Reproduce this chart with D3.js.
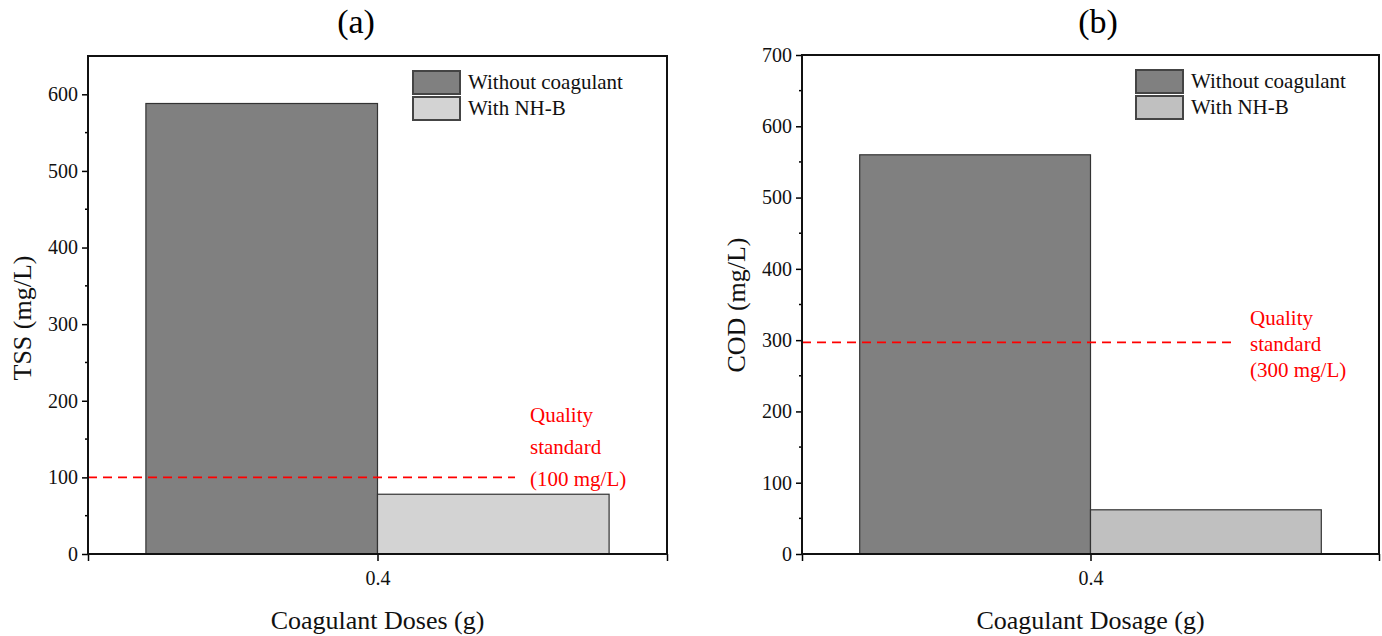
<!DOCTYPE html>
<html>
<head>
<meta charset="utf-8">
<title>Coagulant charts</title>
<script src="https://d3js.org/d3.v7.min.js"></script>
<style>
  body { margin: 0; background: #fff; }
  text { font-family: "Liberation Serif", "Times New Roman", serif; }
</style>
</head>
<body>
<script>
// data
var series = ["Without coagulant", "With NH-B"];
var doses = [0.4];
var tssValues = [588, 78];
var codValues = [560, 62];
var tssStandard = 100;
var codStandard = 297;
var tssTicks = [0, 100, 200, 300, 400, 500, 600];
var codTicks = [0, 100, 200, 300, 400, 500, 600, 700];

var svg = d3.select("body").append("svg")
    .attr("width", 1382)
    .attr("height", 636);

function panel(cfg) {
    var g = svg.append("g");
    var x = d3.scaleLinear().domain([0.2, 0.6]).range([cfg.left, cfg.right]);
    var y = d3.scaleLinear().domain([0, cfg.ymax]).range([cfg.bottom, cfg.top]);
    var barW = 0.16;

    // bars
    g.selectAll(".bar")
        .data(cfg.values)
        .enter().append("rect")
        .attr("x", function(d, i) { return i == 0 ? x(doses[0] - barW) : x(doses[0]); })
        .attr("width", x(doses[0] + barW) - x(doses[0]))
        .attr("y", function(d) { return y(d); })
        .attr("height", function(d) { return y(0) - y(d); })
        .attr("fill", function(d, i) { return cfg.colors[i]; })
        .attr("stroke", "#333")
        .attr("stroke-width", 1.2);

    // standard line
    g.append("line")
        .attr("x1", cfg.left).attr("x2", cfg.lineEnd)
        .attr("y1", y(cfg.standard)).attr("y2", y(cfg.standard))
        .attr("stroke", "#ff0000")
        .attr("stroke-width", 1.8)
        .attr("stroke-dasharray", "9,6");

    g.selectAll(".std")
        .data(cfg.stdText)
        .enter().append("text")
        .attr("x", cfg.stdX)
        .attr("y", function(d, i) { return cfg.stdY + i * cfg.stdGap; })
        .attr("fill", "#ff0000")
        .style("font-size", "21px")
        .text(function(d) { return d; });

    // y axis with minor ticks
    var yAx = g.append("g")
        .attr("transform", "translate(" + cfg.left + ",0)")
        .call(d3.axisLeft(y).tickValues(cfg.ticks).tickSize(6).tickSizeOuter(0));
    yAx.select(".domain").remove();
    yAx.selectAll("text").style("font-size", "20px").attr("fill", "#111").attr("dx", "-1");
    yAx.selectAll("line").attr("stroke-width", 1.5);
    var minor = d3.range(50, cfg.ymax, 100);
    g.selectAll(".minor")
        .data(minor)
        .enter().append("line")
        .attr("x1", cfg.left - 3).attr("x2", cfg.left)
        .attr("y1", function(d) { return y(d); })
        .attr("y2", function(d) { return y(d); })
        .attr("stroke", "#000").attr("stroke-width", 1.5);

    // x axis
    var xAx = g.append("g")
        .attr("transform", "translate(0," + cfg.bottom + ")")
        .call(d3.axisBottom(x).tickValues([0.2, 0.4, 0.6]).tickSize(7).tickSizeOuter(0)
            .tickFormat(function(d) { return d == 0.4 ? "0.4" : ""; }));
    xAx.select(".domain").remove();
    xAx.selectAll("text").style("font-size", "20px").attr("fill", "#111").attr("dy", "1.05em");
    xAx.selectAll("line").attr("stroke-width", 1.5);

    // frame
    g.append("rect")
        .attr("x", cfg.left).attr("y", cfg.top)
        .attr("width", cfg.right - cfg.left)
        .attr("height", cfg.bottom - cfg.top)
        .attr("fill", "none")
        .attr("stroke", "#111")
        .attr("stroke-width", 2);

    // legend
    var lg = g.append("g");
    series.forEach(function(s, i) {
        lg.append("rect")
            .attr("x", cfg.legX).attr("y", cfg.legY + i * 26)
            .attr("width", 47).attr("height", 23)
            .attr("fill", cfg.colors[i])
            .attr("stroke", "#444").attr("stroke-width", 2);
        lg.append("text")
            .attr("x", cfg.legX + 55).attr("y", cfg.legY + i * 26 + 18)
            .style("font-size", "21px")
            .attr("fill", "#111")
            .text(s);
    });

    // titles
    g.append("text")
        .attr("x", cfg.titleX).attr("y", 33)
        .attr("text-anchor", "middle")
        .style("font-size", "34px")
        .text(cfg.title);
    g.append("text")
        .attr("x", (cfg.left + cfg.right) / 2).attr("y", 629)
        .attr("text-anchor", "middle")
        .style("font-size", "26px")
        .attr("fill", "#111")
        .text(cfg.xlabel);
    g.append("text")
        .attr("transform", "translate(" + cfg.ylabX + "," + cfg.ylabY + ")rotate(-90)")
        .attr("text-anchor", "middle")
        .style("font-size", "26px")
        .attr("fill", "#111")
        .text(cfg.ylabel);
}

panel({
    left: 88, right: 667, top: 56, bottom: 554, ymax: 650,
    values: tssValues, colors: ["#808080", "#d3d3d3"], ticks: tssTicks,
    standard: tssStandard, lineEnd: 515,
    stdText: ["Quality", "standard", "(100 mg/L)"], stdX: 530, stdY: 422, stdGap: 32,
    legX: 413, legY: 71,
    title: "(a)", titleX: 356, xlabel: "Coagulant Doses (g)", ylabel: "TSS (mg/L)",
    ylabX: 31, ylabY: 318
});

panel({
    left: 802, right: 1379, top: 55, bottom: 554, ymax: 700,
    values: codValues, colors: ["#808080", "#c0c0c0"], ticks: codTicks,
    standard: codStandard, lineEnd: 1236,
    stdText: ["Quality", "standard", "(300 mg/L)"], stdX: 1250, stdY: 325, stdGap: 26,
    legX: 1136, legY: 70,
    title: "(b)", titleX: 1098, xlabel: "Coagulant Dosage (g)", ylabel: "COD (mg/L)",
    ylabX: 745, ylabY: 305
});
</script>
</body>
</html>
